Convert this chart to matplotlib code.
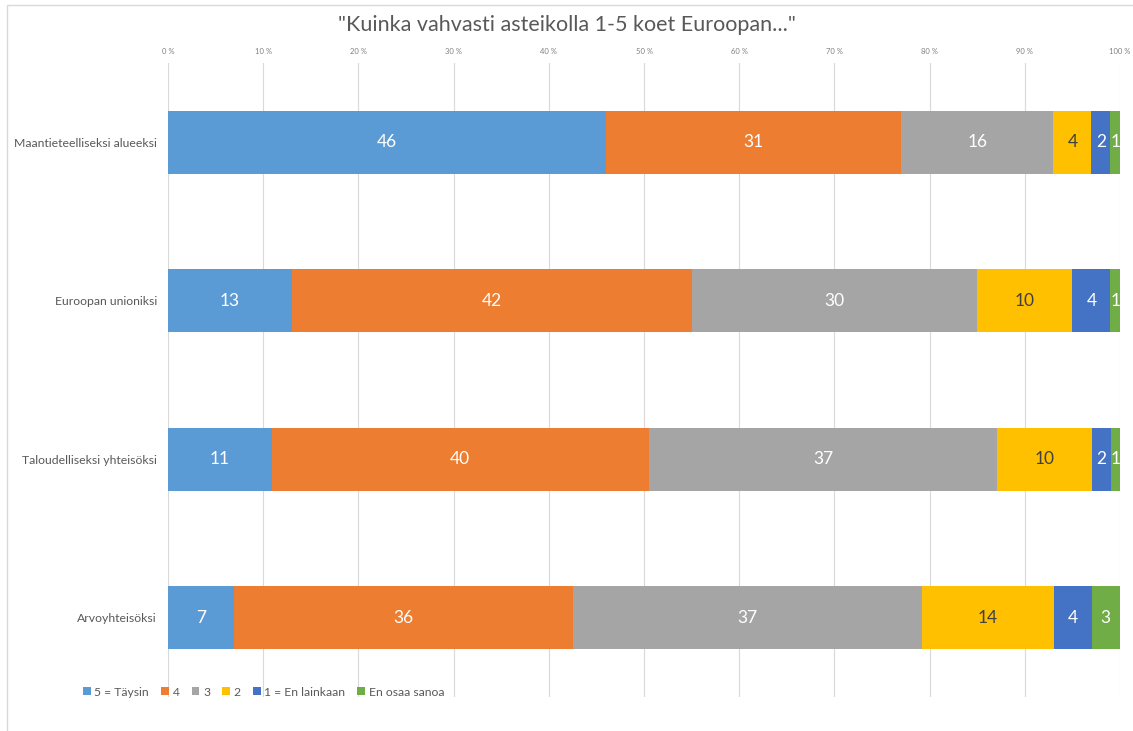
import matplotlib
matplotlib.use("Agg")
import matplotlib.pyplot as plt
from matplotlib.patches import Rectangle
import numpy as np

categories = ["Maantieteelliseksi alueeksi", "Euroopan unioniksi",
              "Taloudelliseksi yhteisöksi", "Arvoyhteisöksi"]
series_names = ["5 = Täysin", "4", "3", "2", "1 = En lainkaan", "En osaa sanoa"]
values = {
    "5 = Täysin":      [46, 13, 11, 7],
    "4":               [31, 42, 40, 36],
    "3":               [16, 30, 37, 37],
    "2":               [4, 10, 10, 14],
    "1 = En lainkaan": [2, 4, 2, 4],
    "En osaa sanoa":   [1, 1, 1, 3],
}
colors = ["#5B9BD5", "#ED7D31", "#A5A5A5", "#FFC000", "#4472C4", "#70AD47"]
text_colors = ["white", "white", "white", "#404040", "white", "white"]
xticks = [0, 10, 20, 30, 40, 50, 60, 70, 80, 90, 100]
xticklabels = [f"{t} %" for t in xticks]
title = '"Kuinka vahvasti asteikolla 1-5 koet Euroopan..."'

plt.rcParams['font.family'] = ['Lato', 'DejaVu Sans']

W, H = 1133, 731
fig = plt.figure(figsize=(W / 100, H / 100), dpi=100)
ax = fig.add_axes([168 / W, 1 - 697 / H, (1120 - 168) / W, (697 - 63) / H])

data = np.array([values[s] for s in series_names], dtype=float)
totals = data.sum(axis=0)
pct = data / totals * 100
y = np.arange(len(categories))
left = np.zeros(len(categories))
for i, s in enumerate(series_names):
    bars = ax.barh(y, pct[i], left=left, height=0.4, color=colors[i], label=s, zorder=3)
    for j, b in enumerate(bars):
        ax.text(left[j] + pct[i][j] / 2, y[j], f"{int(data[i][j])}",
                ha="center", va="center", color=text_colors[i], fontsize=12.5, zorder=4)
    left += pct[i]

ax.set_xlim(0, 100)
ax.set_ylim(len(categories) - 0.5, -0.5)
ax.set_yticks(y)
ax.set_yticklabels(categories, fontsize=8.8, color="#595959")
ax.set_xticks(xticks)
ax.set_xticklabels(xticklabels, fontsize=5.5, color="#808080")
ax.xaxis.tick_top()
ax.tick_params(axis="x", length=0, pad=6)
ax.tick_params(axis="y", length=0, pad=8)
ax.grid(axis="x", color="#D9D9D9", linewidth=0.8, zorder=0)
for sp in ax.spines.values():
    sp.set_visible(False)

fig.text(0.5, 1 - 25 / H, title, ha="center", va="center", fontsize=15.5, color="#595959")

handles, labels = ax.get_legend_handles_labels()
leg = fig.legend(handles, labels, loc="center left", bbox_to_anchor=(72 / W, 1 - 692 / H),
                 ncol=6, frameon=False, fontsize=8.7, handlelength=0.65, handleheight=0.65,
                 handletextpad=0.3, columnspacing=1.0, labelcolor="#595959")

fig.patches.append(Rectangle((7 / W, -0.01), 1.02, 1 - 5 / H + 0.01, transform=fig.transFigure,
                             fill=False, edgecolor="#D9D9D9", linewidth=1))

fig.savefig("out.png", dpi=100, facecolor="white")
